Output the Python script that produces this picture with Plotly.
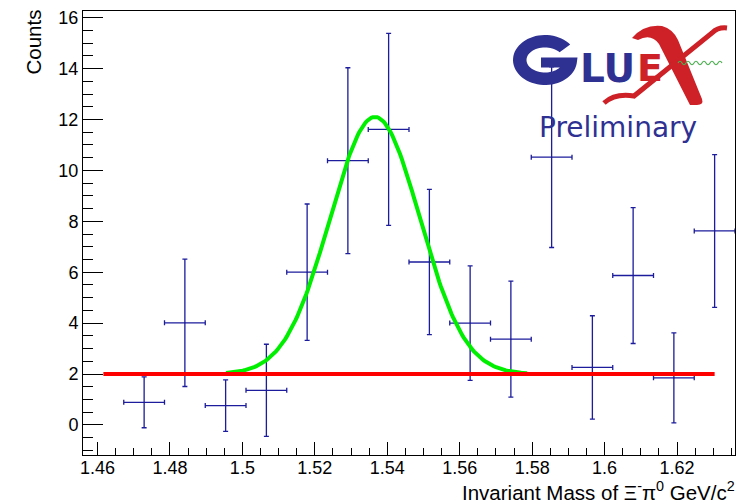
import numpy as np
import plotly.graph_objects as go

# ---------------- data ----------------
bin_centers = [1.472875, 1.484125, 1.495375, 1.506625, 1.517875, 1.529125, 1.540375,
               1.551625, 1.562875, 1.574125, 1.585375, 1.596625, 1.607875, 1.619125, 1.630375]
counts = [0.89, 4.01, 0.76, 1.36, 6.0, 10.38, 11.61, 6.4, 4.0, 3.37, 10.52, 2.26, 5.87, 1.85, 7.62]
count_errors = [1.0, 2.5, 1.01, 1.81, 2.68, 3.65, 3.77, 2.85, 2.25, 2.28, 3.55, 2.03, 2.67, 1.77, 3.0]
bin_half_width = 0.005625

# fit: gaussian + constant background
fit_amp = 10.1
fit_mean = 1.5366
fit_sigma = 0.0124
fit_const = 2.0
fit_range = [1.4955, 1.5786]
bkg_range = [1.461625, 1.630375]

x_tick_vals = [1.46, 1.48, 1.50, 1.52, 1.54, 1.56, 1.58, 1.60, 1.62]
y_tick_vals = [0, 2, 4, 6, 8, 10, 12, 14, 16]

# ---------------- layout geometry (pixels) ----------------
W, H = 739, 503
L, R, T, B = 83, 735, 11, 455

def px(x):
    return (x - L) / (R - L)

def py(y):
    return (B - y) / (B - T)

def path_px(cmds):
    out = []
    for c in cmds:
        if isinstance(c, str):
            out.append(c)
        else:
            out.append(f"{px(c[0]):.5f},{py(c[1]):.5f}")
    return " ".join(out)

BLUE = "#1c1c9c"
LOGO_BLUE = "#2e3192"
LOGO_RED = "#cd2027"
FONT = "Liberation Sans, Arial, sans-serif"

fig = go.Figure()

# histogram points with error bars
fig.add_trace(go.Scatter(
    x=bin_centers, y=counts, mode="markers",
    marker=dict(size=1, color=BLUE),
    error_x=dict(type="constant", value=bin_half_width, color=BLUE, thickness=1.3, width=2.5),
    error_y=dict(type="data", array=count_errors, color=BLUE, thickness=1.3, width=2.5),
    showlegend=False, hoverinfo="skip",
))

# total fit (gauss + const)
xf = np.linspace(fit_range[0], fit_range[1], 200)
yf = fit_amp * np.exp(-0.5 * ((xf - fit_mean) / fit_sigma) ** 2) + fit_const
fig.add_trace(go.Scatter(x=xf, y=yf, mode="lines", line=dict(color="#00ee00", width=4),
                         showlegend=False, hoverinfo="skip"))

# background
fig.add_trace(go.Scatter(x=bkg_range, y=[fit_const, fit_const], mode="lines",
                         line=dict(color="#ff0000", width=4),
                         showlegend=False, hoverinfo="skip"))

# ---------------- GlueX logo (decoration, pixel-placed) ----------------
shapes = []

# "G" drawn as a thick elliptical ring with a bar
gcx, gcy = 545.0, 60.0
orx, ory = 32.0, 25.0
irx, iry = 18.5, 12.5
g_cmds = []
outer_angles = np.linspace(np.radians(38), np.radians(352), 60)
for i, a in enumerate(outer_angles):
    pt = (gcx + orx * np.cos(a), gcy - ory * np.sin(a))
    g_cmds += (["M", pt] if i == 0 else ["L", pt])
g_cmds += ["L", (577.5, 57.5), "L", (541, 57.5), "L", (541, 67.5)]
a_bar = 2 * np.pi - np.arcsin((67.5 - gcy) / iry)
inner_angles = np.linspace(a_bar, np.radians(38), 50)
for a in inner_angles:
    g_cmds += ["L", (gcx + irx * np.cos(a), gcy - iry * np.sin(a))]
g_cmds += ["Z"]
shapes.append(dict(type="path", xref="paper", yref="paper", layer="above",
                   path=path_px(g_cmds), fillcolor=LOGO_BLUE, line=dict(width=0)))

# thick stroke of the X
shapes.append(dict(
    type="path", xref="paper", yref="paper", layer="above",
    path=path_px(["M", (632, 38), "Q", (644, 24), (662, 26), "Q", (673, 29), (678, 40),
                  "L", (702, 99), "Q", (704, 105), (697, 105), "L", (690, 105),
                  "L", (659, 44), "Q", (651, 33), (638, 40), "Z"]),
    fillcolor=LOGO_RED, line=dict(width=0)))
# thin stroke of the X
shapes.append(dict(
    type="path", xref="paper", yref="paper", layer="above",
    path=path_px(["M", (604, 103), "Q", (615, 93), (634, 96), "L", (712, 33),
                  "Q", (718, 27), (727, 28)]),
    line=dict(color=LOGO_RED, width=5)))
# green wave
wave = ["M", (678, 63)]
xw = 678
k = 0
while xw < 722:
    yc = 59.5 if k % 2 == 0 else 66.5
    wave += ["Q", (xw + 2, yc), (xw + 4, 63)]
    xw += 4
    k += 1
shapes.append(dict(type="path", xref="paper", yref="paper", layer="above",
                   path=path_px(wave), line=dict(color="#4caf50", width=1.2)))

annotations = [
    dict(text="LU", x=px(579), y=py(68), xref="paper", yref="paper", showarrow=False,
         xanchor="left", yanchor="middle", borderpad=0,
         font=dict(family="DejaVu Sans", size=39, color=LOGO_BLUE, weight="bold")),
    dict(text="E", x=px(636), y=py(68), xref="paper", yref="paper", showarrow=False,
         xanchor="left", yanchor="middle", borderpad=0,
         font=dict(family="DejaVu Sans", size=38, color=LOGO_RED, weight="bold")),
    dict(text="Preliminary", x=px(618), y=py(128), xref="paper", yref="paper", showarrow=False,
         xanchor="center", yanchor="middle",
         font=dict(family="DejaVu Sans", size=28, color=LOGO_BLUE)),
    # axis titles
    dict(text="Invariant Mass of \u039e<sup>-</sup>\u03c0<sup>0</sup> GeV/c<sup>2</sup>",
         x=px(737), y=py(491), xref="paper", yref="paper", showarrow=False,
         xanchor="right", yanchor="middle", font=dict(family=FONT, size=20.5, color="black")),
    dict(text="Counts", x=px(33), y=py(8), xref="paper", yref="paper", showarrow=False,
         textangle=-90, xanchor="center", yanchor="top",
         font=dict(family=FONT, size=20.5, color="black")),
]

fig.update_layout(
    width=W, height=H,
    margin=dict(l=L, r=W - R, t=T, b=H - B, pad=0),
    paper_bgcolor="white", plot_bgcolor="white",
    font=dict(family=FONT, size=18, color="black"),
    shapes=shapes, annotations=annotations,
    xaxis=dict(range=[1.456, 1.636], tickmode="array", tickvals=x_tick_vals,
               ticktext=[f"{v:g}" for v in x_tick_vals],
               ticks="inside", ticklen=13, tickwidth=1, tickcolor="black",
               minor=dict(dtick=0.005, tick0=1.46, ticks="inside", ticklen=7, tickcolor="black"),
               showline=True, linecolor="black", linewidth=1, mirror=True,
               showgrid=False, zeroline=False, ticklabelstandoff=-4,
               tickfont=dict(family=FONT, size=18)),
    yaxis=dict(range=[-1.18, 16.26], tickmode="array", tickvals=y_tick_vals,
               ticks="inside", ticklen=20, tickwidth=1, tickcolor="black",
               minor=dict(dtick=0.5, tick0=0, ticks="inside", ticklen=10, tickcolor="black"),
               showline=True, linecolor="black", linewidth=1, mirror=True,
               showgrid=False, zeroline=False,
               tickfont=dict(family=FONT, size=18)),
)

fig.write_html("out.html")
